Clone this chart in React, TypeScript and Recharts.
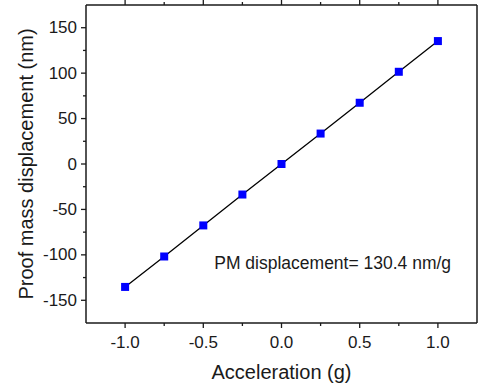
import React from "react";
import {
  LineChart,
  Line,
  XAxis,
  YAxis,
  ReferenceDot,
} from "recharts";

// measured points (acceleration in g, displacement in nm)
const acceleration = [-1, -0.75, -0.5, -0.25, 0, 0.25, 0.5, 0.75, 1];
const displacement = [-135.3, -101.8, -67.6, -33.6, 0, 33.5, 67.4, 101.5, 135.3];

const xTicks = [-1, -0.75, -0.5, -0.25, 0, 0.25, 0.5, 0.75, 1];
const xMajor = [-1, -0.5, 0, 0.5, 1];
const yTicks = [-150, -125, -100, -75, -50, -25, 0, 25, 50, 75, 100, 125, 150];
const yMajor = [-150, -100, -50, 0, 50, 100, 150];

const annotation = "PM displacement= 130.4 nm/g";
const xTitle = "Acceleration (g)";
const yTitle = "Proof mass displacement (nm)";

const data = acceleration.map((x, i) => ({ x, y: displacement[i] }));

const FONT = "'Liberation Sans', Arial, sans-serif";
const INK = "#1a1a1a";

const makeXTick = (dir: number, withLabel: boolean) => (props: any) => {
  const { x, y, payload } = props;
  const major = xMajor.includes(payload.value);
  const len = major ? 5 : 3;
  return (
    <g>
      <line x1={x} x2={x} y1={y} y2={y + dir * len} stroke={INK} strokeWidth={1.3} />
      {withLabel && major && (
        <text
          x={x}
          y={y + 19}
          textAnchor="middle"
          dominantBaseline="central"
          fontSize={17}
          fontFamily={FONT}
          fill={INK}
        >
          {payload.value.toFixed(1)}
        </text>
      )}
    </g>
  );
};

const makeYTick = (dir: number, withLabel: boolean) => (props: any) => {
  const { x, y, payload } = props;
  const major = yMajor.includes(payload.value);
  const len = major ? 5 : 3;
  return (
    <g>
      <line x1={x} x2={x + dir * len} y1={y} y2={y} stroke={INK} strokeWidth={1.3} />
      {withLabel && major && (
        <text
          x={x - 9}
          y={y}
          textAnchor="end"
          dominantBaseline="central"
          fontSize={17}
          fontFamily={FONT}
          fill={INK}
        >
          {payload.value}
        </text>
      )}
    </g>
  );
};

const Square = (props: any) => {
  const { cx, cy } = props;
  if (cx == null || cy == null) return null;
  return <rect x={cx - 4} y={cy - 4} width={8} height={8} fill="#0000ff" />;
};

export default function App() {
  return (
    <div style={{ position: "absolute", left: 0, top: 0, background: "#fff" }}>
      <LineChart
        width={479}
        height={389}
        data={data}
        margin={{ top: 4, right: 1, left: 0, bottom: 0 }}
      >
        <XAxis
          xAxisId="bottom"
          dataKey="x"
          type="number"
          domain={[-1.25, 1.25]}
          ticks={xTicks}
          interval={0}
          height={66}
          tickSize={0}
          tickMargin={0}
          tickLine={false}
          tick={makeXTick(1, true)}
          axisLine={{ stroke: INK, strokeWidth: 1.5 }}
          label={{
            content: ({ viewBox }: any) => (
              <text
                x={viewBox.x + viewBox.width / 2}
                y={viewBox.y + 49}
                textAnchor="middle"
                dominantBaseline="central"
                fontSize={20}
                fontFamily={FONT}
                fill={INK}
              >
                {xTitle}
              </text>
            ),
          }}
        />
        <XAxis
          xAxisId="top"
          orientation="top"
          dataKey="x"
          type="number"
          domain={[-1.25, 1.25]}
          ticks={xTicks}
          interval={0}
          height={1}
          tickSize={0}
          tickMargin={0}
          tickLine={false}
          tick={makeXTick(-1, false)}
          axisLine={{ stroke: INK, strokeWidth: 1.5 }}
        />
        <YAxis
          yAxisId="left"
          type="number"
          domain={[-175, 175]}
          ticks={yTicks}
          interval={0}
          width={86}
          tickSize={0}
          tickMargin={0}
          tickLine={false}
          tick={makeYTick(-1, true)}
          axisLine={{ stroke: INK, strokeWidth: 1.5 }}
          label={{
            content: ({ viewBox }: any) => {
              const cx = 26;
              const cy = viewBox.y + viewBox.height / 2;
              return (
                <text
                  x={cx}
                  y={cy}
                  transform={`rotate(-90 ${cx} ${cy})`}
                  textAnchor="middle"
                  dominantBaseline="central"
                  fontSize={20}
                  fontFamily={FONT}
                  fill={INK}
                >
                  {yTitle}
                </text>
              );
            },
          }}
        />
        <YAxis
          yAxisId="right"
          orientation="right"
          type="number"
          domain={[-175, 175]}
          ticks={yTicks}
          interval={0}
          width={1}
          tickSize={0}
          tickMargin={0}
          tickLine={false}
          tick={makeYTick(1, false)}
          axisLine={{ stroke: INK, strokeWidth: 1.5 }}
        />
        <Line
          xAxisId="bottom"
          yAxisId="left"
          type="linear"
          dataKey="y"
          stroke="#000"
          strokeWidth={1.3}
          dot={<Square />}
          activeDot={false}
          isAnimationActive={false}
        />
        <ReferenceDot
          xAxisId="bottom"
          yAxisId="left"
          x={-0.43}
          y={-109}
          r={0}
          stroke="none"
          fill="none"
          label={{
            content: ({ viewBox }: any) => (
              <text
                x={viewBox.x}
                y={viewBox.y}
                textAnchor="start"
                dominantBaseline="central"
                fontSize={17.5}
                fontFamily={FONT}
                fill={INK}
              >
                {annotation}
              </text>
            ),
          }}
        />
      </LineChart>
    </div>
  );
}
